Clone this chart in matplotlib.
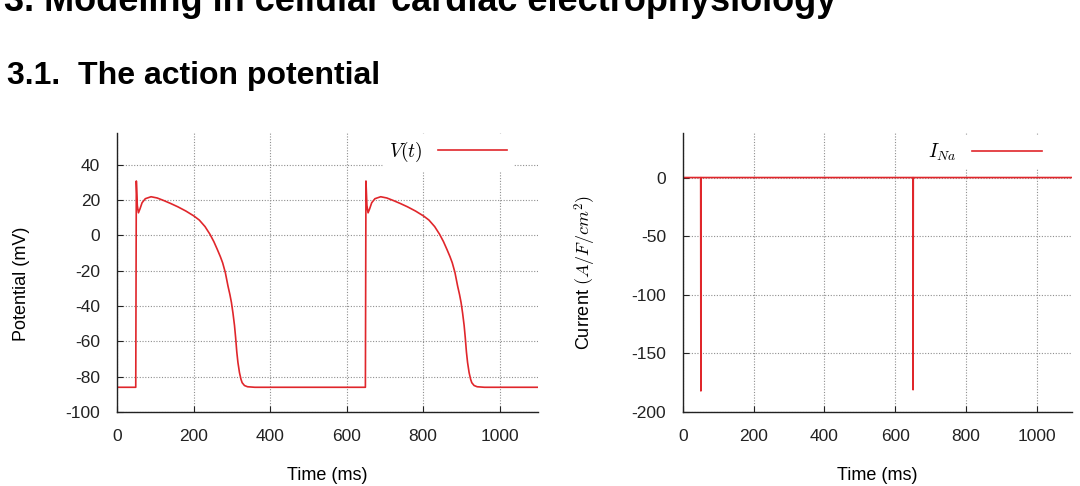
import matplotlib
matplotlib.use('Agg')
import matplotlib.pyplot as plt

matplotlib.rcParams.update({
    'font.family': ['Liberation Sans', 'DejaVu Sans'],
    'mathtext.fontset': 'cm',
    'font.size': 12.5,
    'axes.unicode_minus': False,
    'axes.linewidth': 1.0,
    'axes.edgecolor': '#222222',
    'axes.labelsize': 13,
    'xtick.direction': 'in',
    'ytick.direction': 'in',
    'xtick.major.size': 4,
    'ytick.major.size': 4,
    'xtick.major.pad': 12,
    'ytick.major.pad': 12,
    'xtick.color': '#222222',
    'ytick.color': '#222222',
})

RED = '#e0262b'

# action potential V(t), two beats (ms, mV)
t_v = [0, 49, 50.5, 53, 56, 60, 65.5, 74, 89, 105, 121.6, 140, 159, 180,
       201, 215, 230, 243, 253, 262, 270, 276, 283, 290, 295, 299, 303,
       307, 310, 313, 316, 320, 324, 327, 333, 341, 360,
       649, 650.5, 653, 656, 660, 665.5, 674, 689, 705, 721.6, 740, 759,
       780, 801, 815, 830, 843, 853, 862, 870, 876, 883, 890, 895, 899,
       903, 907, 910, 913, 916, 920, 924, 927, 933, 941, 960, 1100]
v = [-86, -86, 30.8, 17, 12.8, 15, 18.5, 20.8, 21.9, 21.2, 19.8, 18.1,
     16.2, 13.8, 11, 8.7, 5, 0.6, -3.5, -7.9, -12, -15.5, -21, -28.7,
     -33.5, -38, -44, -51, -58, -66, -72, -77.7, -81.5, -83.4, -85,
     -85.7, -86,
     -86, 30.8, 17, 12.8, 15, 18.5, 20.8, 21.9, 21.2, 19.8, 18.1,
     16.2, 13.8, 11, 8.7, 5, 0.6, -3.5, -7.9, -12, -15.5, -21, -28.7,
     -33.5, -38, -44, -51, -58, -66, -72, -77.7, -81.5, -83.4, -85,
     -85.7, -86, -86]

# sodium current I_Na (ms, A/F/cm^2)
t_ina = [0, 50, 50.6, 51.2, 650, 650.6, 651.2, 1100]
ina = [0, 0, -182, 0, 0, -181, 0, 0]

x_ticks = [0, 200, 400, 600, 800, 1000]
v_ticks = [-100, -80, -60, -40, -20, 0, 20, 40]
ina_ticks = [-200, -150, -100, -50, 0]

fig = plt.figure(figsize=(10.8, 4.86), dpi=100)

fig.text(4 / 1080, 1 - 11 / 486, '3. Modeling in cellular cardiac electrophysiology',
         fontsize=26, fontweight='bold', va='baseline', ha='left')
fig.text(7 / 1080, 1 - 84 / 486, '3.1.  The action potential',
         fontsize=23, fontweight='bold', va='baseline', ha='left')


def style_ax(ax, yticks):
    for side in ('top', 'right'):
        ax.spines[side].set_visible(False)
    ax.set_xticks(x_ticks)
    ax.set_yticks(yticks)
    ax.set_xlim(0, 1100)
    ax.grid(True, color='#8f8f8f', linestyle=(0, (1, 1.5)), linewidth=0.8)
    ax.set_axisbelow(True)
    ax.set_xlabel('Time (ms)', labelpad=17)


ax1 = fig.add_axes([117 / 1080, 1 - 412 / 486, 421 / 1080, 279 / 486])
ax1.plot(t_v, v, color=RED, lw=1.2, label='$V(t)$')
style_ax(ax1, v_ticks)
ax1.set_ylim(-100, 58)
ax1.set_ylabel('Potential (mV)')
ax1.yaxis.set_label_coords(-0.207, 0.46)
ax1.legend(loc='center right', bbox_to_anchor=(0.94, 0.932), markerfirst=False,
           frameon=True, framealpha=1, edgecolor='white', fancybox=False,
           fontsize=14, handlelength=3.55, handletextpad=0.8, borderpad=0.3,
           borderaxespad=0)

ax2 = fig.add_axes([683 / 1080, 1 - 412 / 486, 389 / 1080, 279 / 486])
ax2.plot(t_ina, ina, color=RED, lw=1.2, label='$I_{Na}$')
style_ax(ax2, ina_ticks)
ax2.set_ylim(-200, 38)
ax2.set_ylabel('Current $(A/F/cm^2)$')
ax2.yaxis.set_label_coords(-0.218, 0.5)
ax2.legend(loc='center right', bbox_to_anchor=(0.937, 0.932), markerfirst=False,
           frameon=True, framealpha=1, edgecolor='white', fancybox=False,
           fontsize=14, handlelength=3.6, handletextpad=0.8, borderpad=0.3,
           borderaxespad=0)

fig.savefig('out.png', dpi=100)
